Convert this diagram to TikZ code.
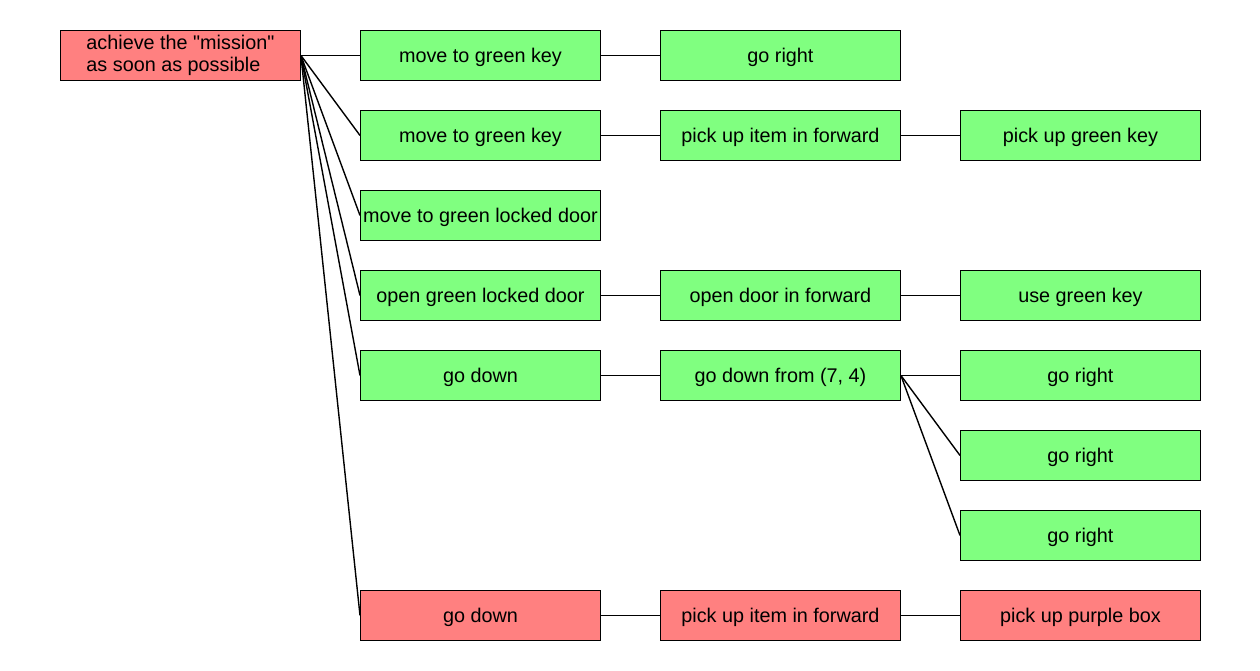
\documentclass[tikz,border=0pt]{standalone}
\usepackage{fontspec}
% plain family without TeX quote mapping, so " stays straight
\newfontfamily\labelfont{Liberation Sans}
\definecolor{okgreen}{HTML}{80FF80}
\definecolor{failred}{HTML}{FF8080}
\begin{document}
\begin{tikzpicture}[x=1pt,y=-1pt,
  boxbase/.style={draw=black,line width=0.9pt,minimum width=240pt,minimum height=50pt,
    inner sep=0pt,font=\labelfont\fontsize{19.8}{22.7}\selectfont,anchor=north west},
  task/.style={boxbase,text height=15pt,text depth=1pt},
  okbox/.style={task,fill=okgreen},
  failbox/.style={task,fill=failred},
  link/.style={line width=1.4pt}]
\useasboundingbox[fill=white] (0,0) rectangle (1260,670);
% root goal
\node[boxbase,fill=failred,align=left] (root) at (60,30) {achieve the "mission"\\as soon as possible};
% first level
\node[okbox]   (a1) at (360,30)  {move to green key};
\node[okbox]   (a2) at (360,110) {move to green key};
\node[okbox]   (a3) at (360,190) {move to green locked door};
\node[okbox]   (a4) at (360,270) {open green locked door};
\node[okbox]   (a5) at (360,350) {go down};
\node[failbox] (a6) at (360,590) {go down};
% second level
\node[okbox]   (b1) at (660,30)  {go right};
\node[okbox]   (b2) at (660,110) {pick up item in forward};
\node[okbox]   (b4) at (660,270) {open door in forward};
\node[okbox]   (b5) at (660,350) {go down from (7, 4)};
\node[failbox] (b6) at (660,590) {pick up item in forward};
% third level
\node[okbox]   (c2) at (960,110) {pick up green key};
\node[okbox]   (c4) at (960,270) {use green key};
\node[okbox]   (c5) at (960,350) {go right};
\node[okbox]   (c6) at (960,430) {go right};
\node[okbox]   (c7) at (960,510) {go right};
\node[failbox] (c8) at (960,590) {pick up purple box};
% connectors
\foreach \n in {a1,a2,a3,a4,a5,a6} \draw[link] (root.east) -- (\n.west);
\draw[link] (a1.east) -- (b1.west);
\draw[link] (a2.east) -- (b2.west);
\draw[link] (b2.east) -- (c2.west);
\draw[link] (a4.east) -- (b4.west);
\draw[link] (b4.east) -- (c4.west);
\draw[link] (a5.east) -- (b5.west);
\foreach \n in {c5,c6,c7} \draw[link] (b5.east) -- (\n.west);
\draw[link] (a6.east) -- (b6.west);
\draw[link] (b6.east) -- (c8.west);
\end{tikzpicture}
\end{document}
